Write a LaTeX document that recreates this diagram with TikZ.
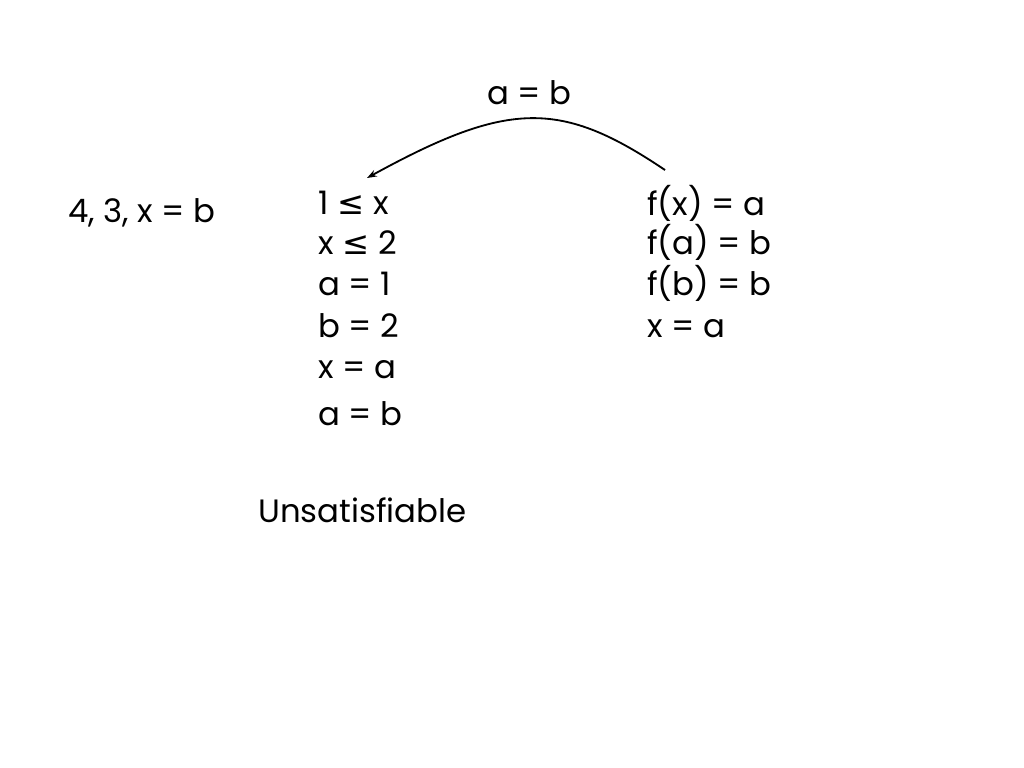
\documentclass[tikz,border=0pt]{standalone}
\usepackage{fontspec}
\setmainfont{Poppins}
\newfontfamily\symfont{DejaVu Sans}
\usepackage{tikz}
\usetikzlibrary{arrows.meta}

\begin{document}
\begin{tikzpicture}[x=0.025cm, y=-0.025cm,
                    lbl/.style={anchor=base west, inner sep=0pt,
                                font=\fontsize{23}{28}\selectfont},
                    link/.style={line width=1.3pt, -{Stealth[length=7pt,width=5pt]}}]
  \useasboundingbox (0,0) rectangle (1024,768);
  \node[lbl] (trail) at (68,222) {4, 3, x = b};
  % left column
  \node[lbl] (c1) at (318,214) {1 {\symfont≤} x};
  \node[lbl] (c2) at (318,254) {x {\symfont≤} 2};
  \node[lbl] (c3) at (318,295) {a = 1};
  \node[lbl] (c4) at (318,337) {b = 2};
  \node[lbl] (c5) at (318,378) {x = a};
  \node[lbl] (c6) at (318,425) {a = b};
  % right column
  \node[lbl] (f1) at (647,215) {f(x) = a};
  \node[lbl] (f2) at (647,254) {f(a) = b};
  \node[lbl] (f3) at (647,295) {f(b) = b};
  \node[lbl] (f4) at (647,337) {x = a};
  \node[lbl] (eq) at (487,105) {a = b};
  \node[lbl] (res) at (258,522) {Unsatisfiable};
  \coordinate (from) at (665,170);
  \coordinate (to) at (367,178);
  \draw[link] (from) .. controls (561,100) and (509,100) .. (to);
\end{tikzpicture}
\end{document}
